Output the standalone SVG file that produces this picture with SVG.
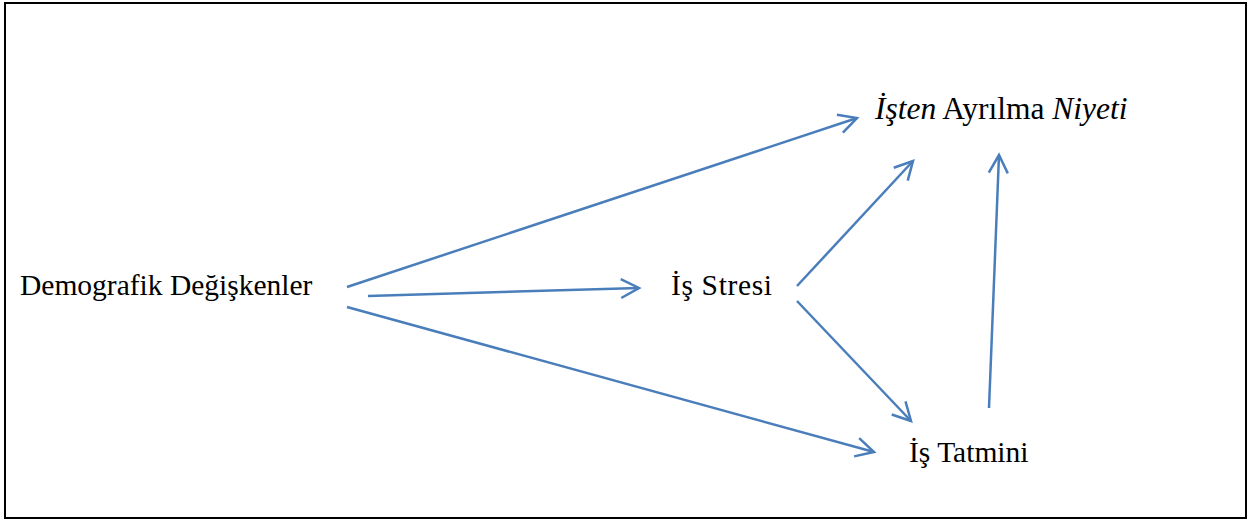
<svg xmlns="http://www.w3.org/2000/svg" width="1257" height="520" viewBox="0 0 1257 520">
<style>
.t{font-family:"Liberation Serif","Times New Roman",serif;font-size:29.5px;fill:#000}
.big{font-size:31.5px}
.i{font-style:italic}
.c{stroke:#4a7ebb;stroke-width:2.5;fill:none;marker-end:url(#ah)}
</style>
<defs>
<marker id="ah" viewBox="-22 -13 26 26" refX="0" refY="0" markerWidth="26" markerHeight="26" markerUnits="userSpaceOnUse" orient="auto">
<path d="M-18,-9.5 L0,0 L-18,9.5" fill="none" stroke="#4a7ebb" stroke-width="2.5" stroke-linecap="butt" stroke-linejoin="miter"/>
</marker>
</defs>
<rect x="0" y="0" width="1257" height="520" fill="#fff"/>
<rect x="5" y="3" width="1241" height="515" fill="none" stroke="#000" stroke-width="2"/>
<g id="connectors">
<line class="c" x1="347" y1="287" x2="857" y2="118"/>
<line class="c" x1="368" y1="296" x2="639" y2="288"/>
<line class="c" x1="347" y1="307" x2="874" y2="452"/>
<line class="c" x1="797" y1="286" x2="913" y2="161"/>
<line class="c" x1="797" y1="301" x2="911" y2="421"/>
<line class="c" x1="989" y1="408" x2="999" y2="155"/>
</g>
<g id="n-demo"><text class="t" x="20" y="295">Demografik Değişkenler</text></g>
<g id="n-stres"><text class="t" x="671" y="295" textLength="101">İş Stresi</text></g>
<g id="n-tatmin"><text class="t" x="909" y="462">İş Tatmini</text></g>
<g id="n-niyet"><text class="t big" x="875" y="119"><tspan class="i">İşten</tspan> Ayrılma <tspan class="i">Niyeti</tspan></text></g>
</svg>
